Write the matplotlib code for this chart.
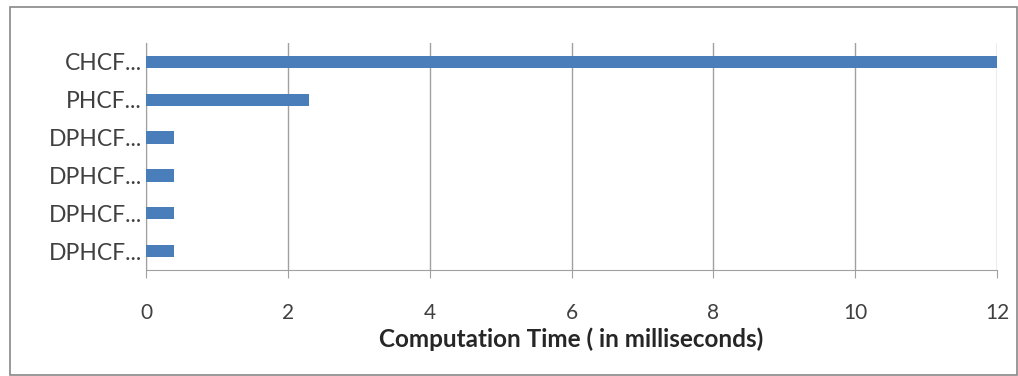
import matplotlib
matplotlib.use("Agg")
import matplotlib.pyplot as plt
from matplotlib.patches import Rectangle

categories = ["CHCF...", "PHCF...", "DPHCF...", "DPHCF...", "DPHCF...", "DPHCF..."]
values = [12.05, 2.3, 0.4, 0.4, 0.4, 0.4]
xticks = [0, 2, 4, 6, 8, 10, 12]
xlabel = "Computation Time ( in milliseconds)"

plt.rcParams['font.family'] = ['Lato', 'DejaVu Sans']

W, H = 1018, 376
fig = plt.figure(figsize=(W / 100, H / 100), dpi=100)
ax = fig.add_axes([146 / W, 1 - 270 / H, (997 - 146) / W, (270 - 43) / H])

ypos = list(range(len(categories)))[::-1]
ax.barh(ypos, values, height=0.33, color="#4a7ebb", zorder=3)
ax.set_xlim(0, 12)
ax.set_ylim(-0.5, len(categories) - 0.5)
ax.set_yticks(ypos)
ax.set_yticklabels(categories, fontsize=16.5, color="#404040")
ax.set_xticks(xticks)
ax.set_xticklabels([str(t) for t in xticks], fontsize=15, color="#404040")
ax.tick_params(axis='y', length=0, pad=3)
ax.tick_params(axis='x', length=6, color="#a0a0a0", pad=18)
ax.grid(axis='x', color="#a0a0a0", linewidth=1, zorder=0)
for s in ['top', 'right']:
    ax.spines[s].set_visible(False)
ax.spines['left'].set_color("#a0a0a0")
ax.spines['bottom'].set_color("#a0a0a0")
ax.set_xlabel(xlabel, fontsize=17.5, fontweight='bold', color="#262626", labelpad=3)

fig.patches.append(Rectangle((10 / W, 1 / H), (W - 11) / W, (H - 8) / H,
                             transform=fig.transFigure, fill=False,
                             edgecolor="#888888", linewidth=1.2))

fig.savefig("out.png", dpi=100)
